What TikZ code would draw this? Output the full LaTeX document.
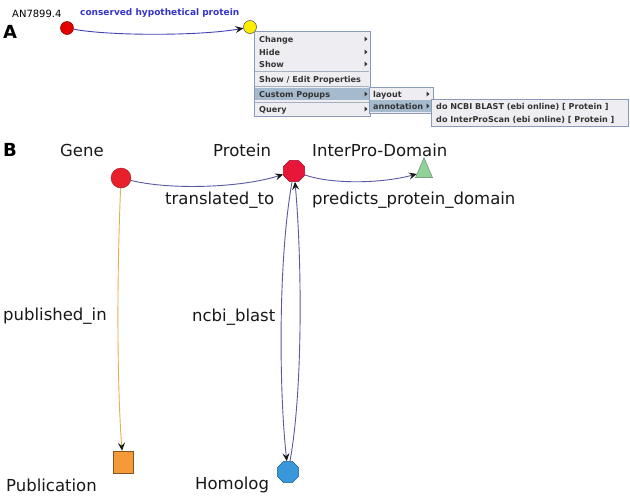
\documentclass[tikz,border=0pt]{standalone}
\usepackage{fontspec}
\setmainfont{DejaVu Sans}
\usetikzlibrary{shapes.geometric,arrows.meta}
\definecolor{edgeblue}{HTML}{5A5AA0}
\definecolor{edgeorange}{HTML}{E8B048}
\definecolor{genered}{HTML}{E8202C}
\definecolor{protred}{HTML}{E8173A}
\definecolor{domgreen}{HTML}{92D29A}
\definecolor{pubor}{HTML}{F59A38}
\definecolor{homblue}{HTML}{3A97DC}
\definecolor{menubg}{HTML}{EEEEF2}
\definecolor{menuframe}{HTML}{8A9ABB}
\definecolor{menuhl}{HTML}{A6BACE}
\definecolor{menusep}{HTML}{A8B0C0}
\definecolor{titleblue}{HTML}{3535C8}
\tikzset{
  lbl/.style={anchor=base west,inner sep=0pt,font=\fontsize{16.5}{18}\selectfont,text=black!90},
  panel/.style={anchor=base west,inner sep=0pt,font=\fontsize{18}{20}\selectfont\bfseries},
  mitem/.style={anchor=base west,inner sep=0pt,font=\fontsize{8.1}{9}\selectfont\bfseries,text=black!80},
  mbox/.style={draw=menuframe,fill=menubg,line width=0.8pt,anchor=north west,inner sep=0pt},
  mhl/.style={fill=menuhl,anchor=north west,inner sep=0pt},
  msep/.style={draw=menusep,line width=0.6pt},
  link/.style={draw=edgeblue,line width=0.9pt,-{Stealth[length=8pt,width=7pt,inset=3pt,color=black!90]}},
  pubedge/.style={draw=edgeorange,line width=0.9pt,-{Stealth[length=8pt,width=7pt,inset=3pt,color=black!90]}},
  marrow/.pic={\fill[black!80] (-1.5,-2.5) -- (1.5,0) -- (-1.5,2.5) -- cycle;}
}
\begin{document}
\begin{tikzpicture}[x=1pt,y=-1pt]
\useasboundingbox[fill=white] (0,0) rectangle (630,496);

% ---------- Part A ----------
\node[panel] (pA) at (3,38) {A};
\node[anchor=base west,inner sep=0pt,font=\fontsize{10}{12}\selectfont] (acc) at (12,17) {AN7899.4};
\node[anchor=base west,inner sep=0pt,font=\fontsize{9}{11}\selectfont\bfseries,text=titleblue] (desc) at (80,15) {conserved hypothetical protein};
\node[circle,minimum size=13pt,inner sep=0pt,fill=red!90!black,draw=red!50!black,line width=0.5pt] (an) at (67,28) {};
\node[circle,minimum size=13pt,inner sep=0pt,fill=yellow!97!red,draw=black!70,line width=0.5pt] (yn) at (250,27) {};
\draw[link,draw=edgeblue!75!blue] (an) .. controls (110,36) and (200,36) .. (yn);

% menu
\node[mbox,minimum width=116pt,minimum height=85pt] (menu) at (254,31) {};
\node[mhl,minimum width=114pt,minimum height=12pt] (hlcp) at (255,88) {};
\draw[msep] (255,71) -- (369,71);
\draw[msep] (255,86) -- (369,86);
\draw[msep] (255,102) -- (369,102);
\node[mitem] (mchange) at (259,42) {Change};
\node[mitem] (mhide) at (259,55) {Hide};
\node[mitem] (mshow) at (259,67) {Show};
\node[mitem] (mprops) at (259,82) {Show / Edit Properties};
\node[mitem] (mcustom) at (259,97) {Custom Popups};
\node[mitem] (mquery) at (259,112) {Query};
\pic at (366,39) {marrow};
\pic at (366,52) {marrow};
\pic at (366,64) {marrow};
\pic at (366,94) {marrow};
\pic at (366,109) {marrow};

\node[mbox,minimum width=64pt,minimum height=26pt] (sub1) at (369,87) {};
\node[mhl,minimum width=61pt,minimum height=12pt] (hlann) at (370,100) {};
\node[mitem] (mlayout) at (373,97) {layout};
\node[mitem] (mannot) at (373,109) {annotation};
\pic at (428,94) {marrow};
\pic at (428,106) {marrow};

\node[mbox,minimum width=197pt,minimum height=27pt] (sub2) at (431,99) {};
\node[mitem] (mblast) at (436,109) {do NCBI BLAST (ebi online) [ Protein ]};
\node[mitem] (mips) at (436,122) {do InterProScan (ebi online) [ Protein ]};

% ---------- Part B ----------
\node[panel] (pB) at (3,156) {B};
\node[lbl] (lgene) at (60,156) {Gene};
\node[lbl] (lprot) at (213,156) {Protein};
\node[lbl] (ldom) at (312,156) {InterPro-Domain};
\node[lbl] (ltrans) at (165,204) {translated\_to};
\node[lbl] (lpred) at (312,204) {predicts\_protein\_domain};
\node[lbl] (lpubin) at (3,320) {published\_in};
\node[lbl] (lblast) at (192,321) {ncbi\_blast};
\node[lbl] (lpub) at (6,491) {Publication};
\node[lbl] (lhom) at (195,489) {Homolog};

\node[circle,minimum size=20pt,inner sep=0pt,fill=genered,draw=genered!70!black,line width=0.4pt] (gene) at (121,178) {};
\node[regular polygon,regular polygon sides=8,minimum size=23pt,inner sep=0pt,fill=protred,draw=protred!70!black,line width=0.4pt] (prot) at (294,171) {};
\node[isosceles triangle,isosceles triangle stretches,shape border rotate=90,minimum width=17pt,minimum height=20pt,inner sep=0pt,fill=domgreen,draw=domgreen!60!black,line width=0.4pt] (dom) at (424,172) {};
\node[rectangle,minimum width=20pt,minimum height=22pt,inner sep=0pt,fill=pubor,draw=pubor!55!black,line width=0.5pt] (pub) at (123,462) {};
\node[regular polygon,regular polygon sides=8,minimum size=23pt,inner sep=0pt,fill=homblue,draw=homblue!60!black,line width=0.4pt] (hom) at (288,472) {};

\draw[link] (gene) .. controls (170,190) and (240,188) .. (prot);
\draw[link] (prot) .. controls (330,184) and (380,184) .. (dom);
\draw[pubedge] (gene) .. controls (116,300) and (118,400) .. (pub);
\draw[link] (prot) .. controls (278,260) and (279,390) .. (hom);
\draw[link] (hom) .. controls (303,390) and (302,260) .. (prot);
\end{tikzpicture}
\end{document}
